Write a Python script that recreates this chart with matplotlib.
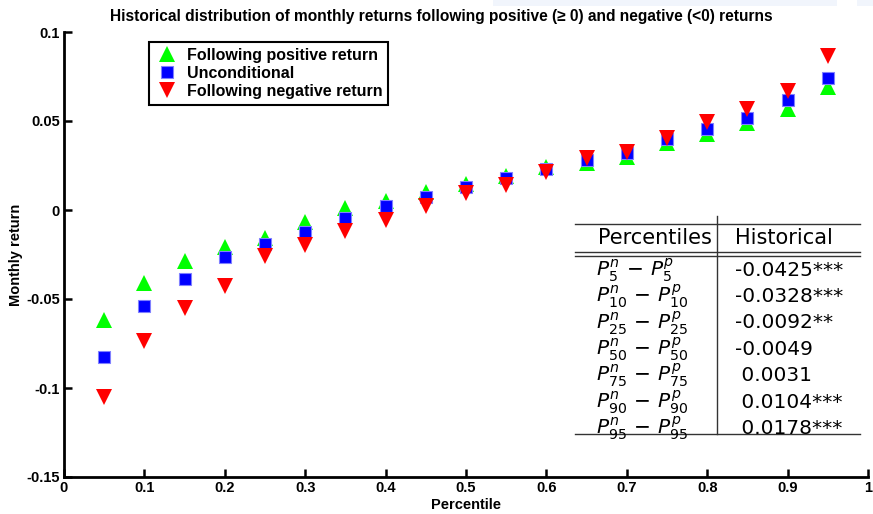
import matplotlib
matplotlib.use("Agg")
import matplotlib.pyplot as plt
from matplotlib.lines import Line2D
from matplotlib.patches import Rectangle

percentiles = [0.05, 0.10, 0.15, 0.20, 0.25, 0.30, 0.35, 0.40, 0.45, 0.50,
               0.55, 0.60, 0.65, 0.70, 0.75, 0.80, 0.85, 0.90, 0.95]
following_positive = [-0.0620, -0.0408, -0.0285, -0.0210, -0.0160, -0.0067, 0.0010, 0.0052, 0.0103, 0.0147,
                      0.0191, 0.0243, 0.0264, 0.0299, 0.0376, 0.0427, 0.0487, 0.0567, 0.0689]
unconditional = [-0.0826, -0.0538, -0.0388, -0.0262, -0.0191, -0.0122, -0.0047, 0.0024, 0.0071, 0.0128,
                 0.0181, 0.0229, 0.0281, 0.0322, 0.0397, 0.0457, 0.0515, 0.0618, 0.0743]
following_negative = [-0.1050, -0.0738, -0.0549, -0.0427, -0.0256, -0.0197, -0.0116, -0.0056, 0.0024, 0.0096,
                      0.0140, 0.0215, 0.0292, 0.0328, 0.0406, 0.0493, 0.0566, 0.0669, 0.0865]

table_rows = [5, 10, 25, 50, 75, 90, 95]
table_values = ["-0.0425***", "-0.0328***", "-0.0092**", "-0.0049", " 0.0031", " 0.0104***", " 0.0178***"]

W, H = 873, 514
plt.rcParams['font.family'] = ['Liberation Sans', 'DejaVu Sans']
plt.rcParams['mathtext.fontset'] = 'dejavusans'

fig = plt.figure(figsize=(W / 100, H / 100), dpi=100)
fig.patch.set_facecolor('white')

def fx(px):
    return px / W

def fy(py):
    return 1 - py / H

# faint background bands at the top
fig.patches.append(Rectangle((fx(493), fy(6)), fx(837) - fx(493), fy(0) - fy(6),
                             transform=fig.transFigure, facecolor='#f1f5fc', edgecolor='none', zorder=0))
fig.patches.append(Rectangle((fx(857), fy(6)), fx(873) - fx(857), fy(0) - fy(6),
                             transform=fig.transFigure, facecolor='#f1f5fc', edgecolor='none', zorder=0))

ax = fig.add_axes([fx(64), fy(477), fx(868) - fx(64), fy(32) - fy(477)])
ax.set_xlim(0, 1)
ax.set_ylim(-0.15, 0.1)

ax.plot(percentiles, following_positive, linestyle='none', marker='^', color='#00ff00',
        markersize=11.5, markeredgewidth=0, label='Following positive return')
ax.plot(percentiles, unconditional, linestyle='none', marker='s', color='#0000ff',
        markersize=9, markeredgewidth=0.8, markeredgecolor='#8080ff', label='Unconditional')
ax.plot(percentiles, following_negative, linestyle='none', marker='v', color='#ff0000',
        markersize=11.5, markeredgewidth=0, label='Following negative return')

for s in ['top', 'right']:
    ax.spines[s].set_visible(False)
for s in ['left', 'bottom']:
    ax.spines[s].set_linewidth(2)
ax.tick_params(direction='in', length=6, width=1.8, labelsize=10.5, pad=3)
ax.set_xticks([0, 0.1, 0.2, 0.3, 0.4, 0.5, 0.6, 0.7, 0.8, 0.9, 1])
ax.set_xticklabels(['0', '0.1', '0.2', '0.3', '0.4', '0.5', '0.6', '0.7', '0.8', '0.9', '1'])
ax.set_yticks([-0.15, -0.1, -0.05, 0, 0.05, 0.1])
ax.set_yticklabels(['-0.15', '-0.1', '-0.05', '0', '0.05', '0.1'])
for lab in ax.get_xticklabels() + ax.get_yticklabels():
    lab.set_fontweight('bold')

ax.set_xlabel('Percentile', fontsize=10.5, fontweight='bold', labelpad=2)
ax.set_ylabel('Monthly return', fontsize=10.5, fontweight='bold', labelpad=2)
fig.text(fx(441), fy(16), 'Historical distribution of monthly returns following positive (\u2265 0) and negative (<0) returns',
         ha='center', va='center', fontsize=11.2, fontweight='bold')

leg = ax.legend(loc='upper left', bbox_to_anchor=(fx(149 - 64) / (fx(868) - fx(64)), 1 - (42 - 32) / 445),
                frameon=True, fancybox=False, framealpha=1, edgecolor='black',
                prop={'weight': 'bold', 'size': 11.5}, handletextpad=0.5, borderpad=0.35,
                labelspacing=0.2, handlelength=1.5, borderaxespad=0)
leg.get_frame().set_linewidth(1.5)

# table
lc = '#333333'
def hline(y, x0=575, x1=860, lw=1.0):
    fig.add_artist(Line2D([fx(x0), fx(x1)], [fy(y), fy(y)], transform=fig.transFigure, color=lc, lw=lw))

hline(224)
hline(252)
hline(256)
hline(434)
fig.add_artist(Line2D([fx(717), fx(717)], [fy(216), fy(434)], transform=fig.transFigure, color=lc, lw=1.0))

fig.text(fx(655), fy(238), 'Percentiles', ha='center', va='center', fontsize=15, family='DejaVu Sans')
fig.text(fx(735), fy(238), 'Historical', ha='left', va='center', fontsize=15, family='DejaVu Sans')
for i, (p, v) in enumerate(zip(table_rows, table_values)):
    y = 270 + i * 26.4
    fig.text(fx(596), fy(y), r'$P_{%d}^{n}\,-\,P_{%d}^{p}$' % (p, p), ha='left', va='center', fontsize=14.5)
    fig.text(fx(735), fy(y), v, ha='left', va='center', fontsize=14.5, family='DejaVu Sans')

fig.savefig('out.png', dpi=100)
